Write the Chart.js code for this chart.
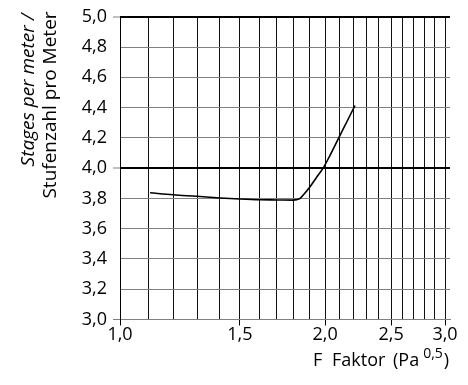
<!DOCTYPE html>
<html>
<head>
<meta charset="utf-8">
<script src="https://cdn.jsdelivr.net/npm/chart.js@4.4.1/dist/chart.umd.min.js"></script>
<style>
  html, body { margin: 0; padding: 0; background: #fff; }
  canvas { display: block; }
</style>
</head>
<body>
<canvas id="chart" width="468" height="385"></canvas>
<script>
// F factor (Pa^0.5) vs stages per meter
const fFactor = [1.107, 1.197, 1.296, 1.402, 1.5, 1.605, 1.70, 1.797, 1.817, 1.838, 1.858, 1.901, 1.944, 1.988, 2.034, 2.092, 2.152, 2.213];
const stages  = [3.837, 3.824, 3.814, 3.803, 3.796, 3.791, 3.79, 3.789, 3.792, 3.80, 3.822, 3.877, 3.940, 4.002, 4.085, 4.195, 4.305, 4.414];

const xGridValues = [1.0, 1.1, 1.2, 1.3, 1.4, 1.5, 1.6, 1.7, 1.8, 1.9, 2.0, 2.1, 2.2, 2.3, 2.4, 2.5, 2.6, 2.7, 2.8, 2.9, 3.0];
const xLabeled = [1.0, 1.5, 2.0, 2.5, 3.0];
const yTickValues = [3.0, 3.2, 3.4, 3.6, 3.8, 4.0, 4.2, 4.4, 4.6, 4.8, 5.0];
const yMarked = [3.0, 4.0, 5.0];

const FONT = "'Open Sans', sans-serif";
const fmt = v => v.toFixed(1).replace(".", ",");
const near = (a, list) => list.some(b => Math.abs(a - b) < 1e-6);

// axis titles drawn by hand (two fonts in one title, superscript)
const titles = {
  id: "titles",
  afterDraw(chart) {
    const ctx = chart.ctx;
    ctx.save();
    ctx.fillStyle = "#000";
    ctx.textBaseline = "middle";
    ctx.textAlign = "center";

    ctx.save();
    ctx.translate(29, 90);
    ctx.rotate(-Math.PI / 2);
    ctx.font = "italic 19px " + FONT;
    ctx.fillText("Stages per meter /", 0, 0);
    ctx.restore();

    ctx.save();
    ctx.translate(51, 105);
    ctx.rotate(-Math.PI / 2);
    ctx.font = "19px " + FONT;
    ctx.fillText("Stufenzahl pro Meter", 0, 0);
    ctx.restore();

    ctx.textBaseline = "alphabetic";
    ctx.textAlign = "left";
    ctx.font = "18px " + FONT;
    ctx.fillText("F", 313, 366);
    ctx.fillText("Faktor", 332, 366);
    ctx.fillText("(Pa", 393, 366);
    const pa = ctx.measureText("(Pa").width;
    ctx.font = "14px " + FONT;
    const supX = 393 + pa + 4;
    ctx.fillText("0,5", supX, 358);
    const w = ctx.measureText("0,5").width;
    ctx.font = "18px " + FONT;
    ctx.fillText(")", supX + w + 1, 366);
    ctx.restore();
  }
};

new Chart(document.getElementById("chart"), {
  type: "line",
  data: {
    datasets: [{
      data: fFactor.map((x, i) => ({ x: x, y: stages[i] })),
      borderColor: "#000",
      borderWidth: 1.6,
      pointRadius: 0,
      fill: false,
      cubicInterpolationMode: "monotone"
    }]
  },
  options: {
    responsive: false,
    devicePixelRatio: 1,
    animation: false,
    layout: { padding: { top: 16.5, right: 18, left: 0, bottom: 0 } },
    plugins: { legend: { display: false }, tooltip: { enabled: false } },
    scales: {
      x: {
        type: "logarithmic",
        min: 1.0,
        max: 3.051,
        afterBuildTicks(scale) {
          scale.ticks = xGridValues.map(v => ({ value: v }));
        },
        afterFit(scale) { scale.height = 385 - 319.5; },
        border: { display: true, color: "#808080", width: 1 },
        grid: {
          color: "#111",
          lineWidth: 1,
          tickLength: 6,
          tickColor: ctx => near(ctx.tick.value, xLabeled) ? "#000" : "rgba(0,0,0,0)"
        },
        ticks: {
          autoSkip: false,
          maxRotation: 0,
          padding: -1,
          color: "#000",
          font: { family: FONT, size: 18 },
          callback: v => near(v, xLabeled) ? fmt(v) : ""
        }
      },
      y: {
        type: "linear",
        min: 3.0,
        max: 5.0,
        afterBuildTicks(scale) {
          scale.ticks = yTickValues.map(v => ({ value: v }));
        },
        afterFit(scale) { scale.width = 120; },
        border: { display: true, color: "#000", width: 1 },
        grid: {
          color: ctx => near(ctx.tick.value, [4.0, 5.0]) ? "#000" : "#808080",
          lineWidth: ctx => near(ctx.tick.value, [4.0, 5.0]) ? 2 : 1,
          tickLength: 7,
          tickWidth: 1,
          tickColor: ctx => near(ctx.tick.value, yMarked) ? "#808080" : "rgba(0,0,0,0)"
        },
        ticks: {
          padding: 6,
          color: "#000",
          font: { family: FONT, size: 18 },
          callback: v => fmt(v)
        }
      }
    }
  },
  plugins: [titles]
});
</script>
</body>
</html>
